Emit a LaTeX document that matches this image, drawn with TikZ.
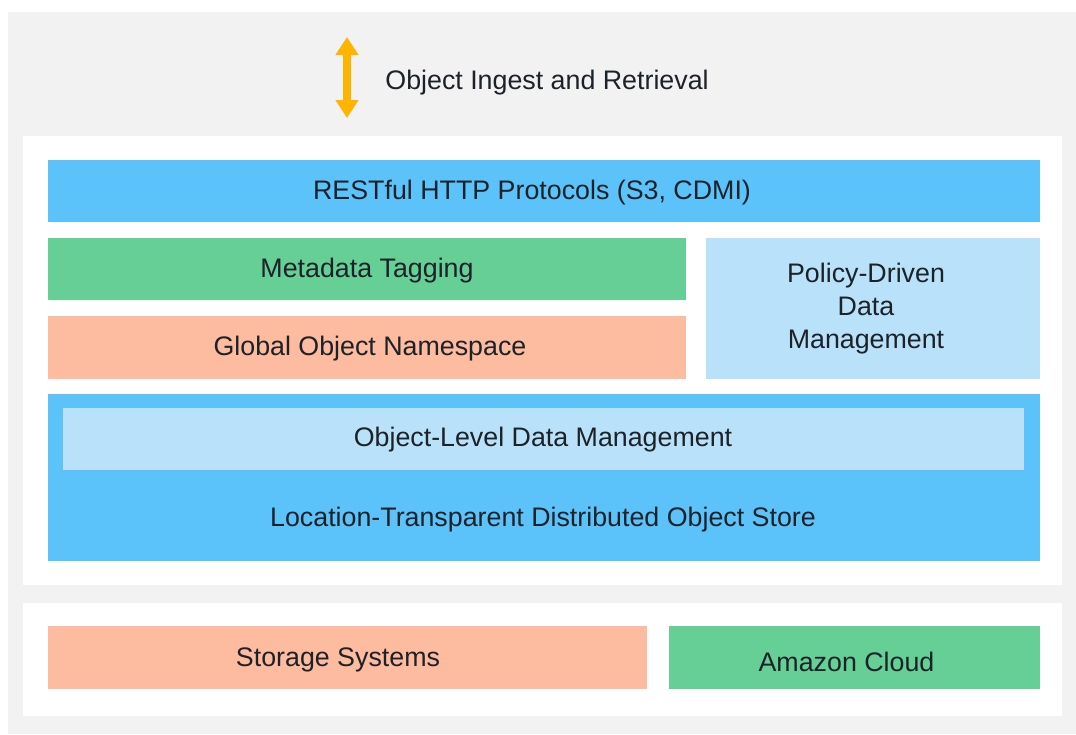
\documentclass[tikz,border=0pt]{standalone}
\usepackage{fontspec}
\setmainfont{Liberation Sans}
\usetikzlibrary{arrows.meta}
\definecolor{bgGray}{HTML}{F2F2F2}
\definecolor{cBlue}{HTML}{5BC2FA}
\definecolor{cLight}{HTML}{B9E2FA}
\definecolor{cGreen}{HTML}{66CF96}
\definecolor{cSalmon}{HTML}{FDBBA0}
\definecolor{cArrow}{HTML}{FFB400}
\definecolor{cText}{HTML}{1C2228}
\begin{document}
\begin{tikzpicture}[x=0.5pt,y=-0.5pt,
  box/.style={rectangle, inner sep=0pt, outer sep=0pt},
  txt/.style={inner sep=0pt, text=cText, font=\fontsize{13.4}{16.5}\selectfont, align=center}]
\useasboundingbox (0,0) rectangle (1076,734);
\fill[white] (0,0) rectangle (1076,734);
% panels
\fill[bgGray] (8,12) rectangle (1076,734);
\fill[white] (23,136) rectangle (1062,585);
\fill[white] (23,603) rectangle (1062,716);
% arrow
\coordinate (atop) at (347,37);
\coordinate (abot) at (347,118);
\draw[cArrow, line width=3.6pt, {Triangle[width=11pt,length=9pt]}-{Triangle[width=11pt,length=9pt]}] (atop) -- (abot);
\node[txt, anchor=west] (ingest) at (385,83) {Object Ingest and Retrieval};
% boxes
\node[box, fill=cBlue, minimum width=496pt, minimum height=31pt] (rest) at (544,191) {};
\node[txt] (restt) at (532,193) {RESTful HTTP Protocols (S3, CDMI)};
\node[box, fill=cGreen, minimum width=319pt, minimum height=31pt] (meta) at (367,269) {};
\node[txt] (metat) at (367,271) {Metadata Tagging};
\node[box, fill=cSalmon, minimum width=319pt, minimum height=31.5pt] (glob) at (367,347.5) {};
\node[txt] (globt) at (370,349) {Global Object Namespace};
\node[box, fill=cLight, minimum width=167pt, minimum height=70.5pt] (policy) at (873,308.5) {};
\node[txt] (policyt) at (866,309) {Policy-Driven\\Data\\Management};
\node[box, fill=cBlue, minimum width=496pt, minimum height=83.5pt] (loc) at (544,477.5) {};
\node[box, fill=cLight, minimum width=480.5pt, minimum height=31pt] (objlvl) at (543.5,439) {};
\node[txt] (objlvlt) at (543,440) {Object-Level Data Management};
\node[txt] (loct) at (543,520) {Location-Transparent Distributed Object Store};
\node[box, fill=cSalmon, minimum width=299.5pt, minimum height=31.5pt] (stor) at (347.5,657.5) {};
\node[txt] (stort) at (338,660) {Storage Systems};
\node[box, fill=cGreen, minimum width=185.5pt, minimum height=31.5pt] (amz) at (854.5,657.5) {};
\node[txt] (amzt) at (846.5,662) {Amazon Cloud};
\end{tikzpicture}
\end{document}
